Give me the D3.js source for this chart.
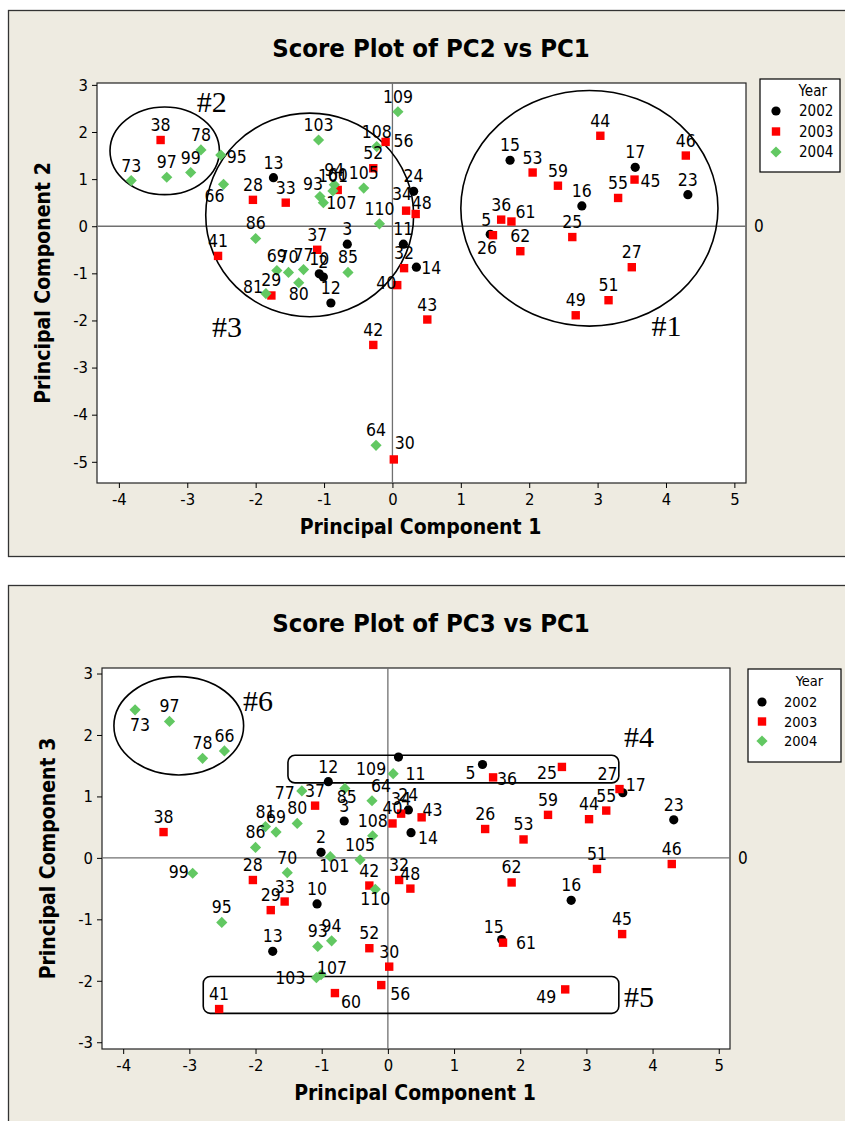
<!DOCTYPE html>
<html lang="en">
<head>
<meta charset="UTF-8">
<title>Score Plots</title>
<script src="https://d3js.org/d3.v7.min.js"></script>
<style>
  body { margin: 0; background: #fff; }
  svg { display: block; }
  .cond { font-family: "DejaVu Sans Condensed", "DejaVu Sans", sans-serif; font-stretch: condensed; }
  .tick text { font-family: "DejaVu Sans Condensed", "DejaVu Sans", sans-serif; font-stretch: condensed; font-size: 16.5px; fill: #000; }
  .tick line { stroke: #000; }
</style>
</head>
<body>
<script>
// sample ids, year and principal component scores
const ids = [2,3,5,10,11,12,13,14,15,16,17,23,24,25,26,27,28,29,30,32,33,34,36,37,38,40,41,42,43,44,45,46,48,49,51,52,53,55,56,59,60,61,62,64,66,69,70,73,77,78,80,81,85,86,93,94,95,97,99,101,103,105,107,108,109,110];
const years = [2002,2002,2002,2002,2002,2002,2002,2002,2002,2002,2002,2002,2002,
  2003,2003,2003,2003,2003,2003,2003,2003,2003,2003,2003,2003,2003,2003,2003,2003,2003,2003,2003,2003,2003,2003,2003,2003,2003,2003,2003,2003,2003,2003,
  2004,2004,2004,2004,2004,2004,2004,2004,2004,2004,2004,2004,2004,2004,2004,2004,2004,2004,2004,2004,2004,2004,2004];
const pc1 = [-1.01,-0.66,1.43,-1.07,0.16,-0.90,-1.74,0.35,1.72,2.77,3.55,4.32,0.31,2.63,1.47,3.50,-2.04,-1.77,0.02,0.17,-1.56,0.20,1.59,-1.10,-3.39,0.07,-2.55,-0.28,0.51,3.04,3.54,4.29,0.34,2.68,3.16,-0.28,2.05,3.30,-0.10,2.42,-0.80,1.74,1.87,-0.24,-2.47,-1.69,-1.52,-3.82,-1.30,-2.80,-1.37,-1.85,-0.65,-2.00,-1.06,-0.85,-2.51,-3.30,-2.95,-0.87,-1.08,-0.42,-1.01,-0.23,0.08,-0.19];
const pc2 = [-1.08,-0.38,-0.17,-1.01,-0.38,-1.63,1.03,-0.87,1.40,0.43,1.25,0.67,0.74,-0.23,-0.19,-0.87,0.56,-1.47,-4.95,-0.89,0.50,0.33,0.14,-0.50,1.83,-1.25,-0.63,-2.52,-1.98,1.92,0.99,1.50,0.26,-1.89,-1.57,1.23,1.14,0.60,1.79,0.86,0.77,0.10,-0.53,-4.65,0.89,-0.94,-0.98,0.97,-0.92,1.62,-1.20,-1.43,-0.98,-0.26,0.63,0.88,1.51,1.04,1.14,0.75,1.83,0.81,0.50,1.69,2.43,0.05];
const pc3 = [0.09,0.60,1.52,-0.75,1.64,1.24,-1.52,0.41,-1.33,-0.69,1.06,0.62,0.78,1.48,0.47,1.12,-0.36,-0.85,-1.77,-0.36,-0.71,0.72,1.31,0.85,0.42,0.56,-2.46,-0.45,0.66,0.63,-1.24,-0.10,-0.50,-2.14,-0.18,-1.47,0.30,0.77,-2.07,0.70,-2.20,-1.38,-0.40,0.93,1.74,0.42,-0.24,2.41,1.09,1.62,0.56,0.51,1.13,0.17,-1.44,-1.35,-1.05,2.22,-0.25,0.02,-1.95,-0.03,-1.90,0.36,1.37,-0.51];

const legendYears = [2002, 2003, 2004];
const xTicks = [-4,-3,-2,-1,0,1,2,3,4,5];
const yTicks2 = [3,2,1,0,-1,-2,-3,-4,-5];
const yTicks3 = [3,2,1,0,-1,-2,-3];

// group outlines drawn on the plots (data units)
const ellipses2 = [{cx:-3.33, cy:1.60, rx:0.80, ry:0.93}, {cx:-1.21, cy:0.24, rx:1.52, ry:2.16}, {cx:2.88, cy:0.38, rx:1.88, ry:2.50}];
const marks2 = [{t:"#2", x:-2.86, y:2.43}, {t:"#3", x:-2.64, y:-2.36}, {t:"#1", x:3.79, y:-2.34}];
const ellipses3 = [{cx:-3.16, cy:2.15, rx:0.98, ry:0.80}];
const boxes3 = [{x0:-1.51, x1:3.49, y0:1.67, y1:1.22}, {x0:-2.79, x1:3.49, y0:-1.93, y1:-2.53}];
const marks3 = [{t:"#6", x:-2.19, y:2.39}, {t:"#4", x:3.57, y:1.81}, {t:"#5", x:3.57, y:-2.42}];

// label placement exceptions: [dx, dy, anchor]
const place2 = {95:[6,8,"start"],66:[1,18,"end"],107:[3,6,"start"],81:[-3,-1,"end"],80:[0,17,"middle"],
  40:[-1,4,"end"],14:[5,7,"start"],56:[8,5,"start"],48:[-4,-5,"start"],30:[1,-10,"start"],45:[6,7,"start"],
  5:[1,-8,"end"],26:[-6,19,"middle"],61:[4,-4,"start"],93:[-7,-7,"middle"],34:[-4,-11,"middle"]};
const place3 = {73:[5,21,"middle"],11:[7,23,"start"],109:[-7,1,"end"],77:[-7,8,"end"],85:[2,15,"middle"],
  64:[-1,-9,"start"],43:[1,-1,"start"],14:[7,11,"start"],101:[4,15,"middle"],99:[-4,5,"end"],110:[0,16,"middle"],
  56:[9,15,"start"],60:[6,15,"start"],103:[-11,6,"end"],107:[-4,-1,"start"],5:[-7,15,"end"],36:[4,8,"start"],
  25:[-5,12,"end"],27:[-2,-9,"end"],17:[3,-2,"start"],15:[-8,-7,"middle"],61:[13,6,"start"],49:[-9,14,"end"]};

const colors = {2002: "#000000", 2003: "#ff0000", 2004: "#62c862"};

const svg = d3.select("body").append("svg")
  .attr("width", 845).attr("height", 1121);

const points = ids.map((id, i) => ({id, year: years[i], pc1: pc1[i], pc2: pc2[i], pc3: pc3[i]}));

function marker(g, year, s) {
  if (year === 2002) {
    g.append("circle").attr("r", 4.6 * s).attr("fill", colors[year]);
  } else if (year === 2003) {
    g.append("rect").attr("x", -4.2 * s).attr("y", -4.2 * s)
      .attr("width", 8.4 * s).attr("height", 8.4 * s).attr("fill", colors[year]);
  } else {
    const r = 5.6 * s;
    g.append("path").attr("d", `M0,${-r}L${r},0L0,${r}L${-r},0Z`).attr("fill", colors[year]);
  }
}

function drawPlot(c) {
  const g = svg.append("g");
  // panel
  g.append("rect").attr("x", 8.5).attr("y", c.panelTop).attr("width", 845).attr("height", c.panelH)
    .attr("fill", "#eeebe1").attr("stroke", "#333").attr("stroke-width", 1.3);

  const x = d3.scaleLinear().domain([-4.32, 5.17]).range([c.left, c.right]);
  const y = d3.scaleLinear().domain(c.yDomain).range([c.bottom, c.top]);

  g.append("rect").attr("x", c.left).attr("y", c.top)
    .attr("width", c.right - c.left).attr("height", c.bottom - c.top)
    .attr("fill", "#fff").attr("stroke", "#222").attr("stroke-width", 1.2);

  // reference lines
  g.append("line").attr("x1", x(0)).attr("x2", x(0)).attr("y1", c.top).attr("y2", c.bottom)
    .attr("stroke", "#707070").attr("stroke-width", 1.3);
  g.append("line").attr("x1", c.left).attr("x2", c.right).attr("y1", y(0)).attr("y2", y(0))
    .attr("stroke", "#707070").attr("stroke-width", 1.3);
  g.append("text").attr("class", "cond").attr("x", c.right + 8).attr("y", y(0) + 6)
    .attr("font-size", 17).text("0");

  // axes
  const ax = g.append("g").attr("transform", `translate(0,${c.bottom})`)
    .call(d3.axisBottom(x).tickValues(xTicks).tickSize(5).tickPadding(5).tickFormat(d3.format("d")));
  ax.select(".domain").remove();
  const ay = g.append("g").attr("transform", `translate(${c.left},0)`)
    .call(d3.axisLeft(y).tickValues(c.yTicks).tickSize(5).tickPadding(4).tickFormat(d3.format("d")));
  ay.select(".domain").remove();
  g.selectAll(".tick text").text(d => String(d));

  // titles
  g.append("text").attr("class", "cond").attr("x", 431).attr("y", c.panelTop + 46)
    .attr("text-anchor", "middle").attr("font-size", 25.5).attr("font-weight", "bold").text(c.title);
  g.append("text").attr("class", "cond").attr("x", (c.left + c.right) / 2 - 1).attr("y", c.bottom + 51)
    .attr("text-anchor", "middle").attr("font-size", 21).attr("font-weight", "bold").text("Principal Component 1");
  g.append("text").attr("class", "cond")
    .attr("transform", `translate(${c.left - 47},${(c.top + c.bottom) / 2}) rotate(-90)`)
    .attr("text-anchor", "middle").attr("font-size", 21).attr("font-weight", "bold").text(c.yLabel);

  // group outlines
  (c.ellipses || []).forEach(e => {
    g.append("ellipse").attr("cx", x(e.cx)).attr("cy", y(e.cy))
      .attr("rx", x(e.rx) - x(0)).attr("ry", y(0) - y(e.ry))
      .attr("fill", "none").attr("stroke", "#000").attr("stroke-width", 1.6);
  });
  (c.boxes || []).forEach(b => {
    g.append("rect").attr("x", x(b.x0)).attr("y", y(b.y0))
      .attr("width", x(b.x1) - x(b.x0)).attr("height", y(b.y1) - y(b.y0))
      .attr("rx", 7).attr("fill", "none").attr("stroke", "#000").attr("stroke-width", 1.6);
  });
  c.marks.forEach(m => {
    g.append("text").attr("x", x(m.x)).attr("y", y(m.y))
      .attr("font-family", "Liberation Serif, serif").attr("font-size", 30).text(m.t);
  });

  // points
  points.forEach(p => {
    const pg = g.append("g").attr("transform", `translate(${x(p.pc1)},${y(p[c.key])})`);
    marker(pg, p.year, 1);
  });
  points.forEach(p => {
    const pl = c.place[p.id] || [0, -9, "middle"];
    g.append("text").attr("class", "cond")
      .attr("x", x(p.pc1) + pl[0]).attr("y", y(p[c.key]) + pl[1])
      .attr("text-anchor", pl[2]).attr("font-size", 17.5).text(p.id);
  });

  // legend
  const L = c.legend;
  const lg = g.append("g");
  lg.append("rect").attr("x", L.x).attr("y", L.y).attr("width", L.w).attr("height", L.h)
    .attr("fill", "#fff").attr("stroke", "#000").attr("stroke-width", 1.2);
  lg.append("text").attr("class", "cond").attr("x", L.x + L.w * 0.66).attr("y", L.y + 17)
    .attr("text-anchor", "middle").attr("font-size", L.fs).text("Year");
  legendYears.forEach((yr, i) => {
    const cy = L.y + L.row0 + i * L.step;
    marker(lg.append("g").attr("transform", `translate(${L.x + L.mx},${cy})`), yr, 1);
    lg.append("text").attr("class", "cond").attr("x", L.x + L.tx).attr("y", cy + 5)
      .attr("font-size", L.fs).text(yr);
  });
}

drawPlot({
  panelTop: 10.5, panelH: 546, left: 97, right: 746, top: 83, bottom: 483,
  yDomain: [-5.45, 3.04], yTicks: yTicks2, key: "pc2",
  title: "Score Plot of PC2 vs PC1", yLabel: "Principal Component 2",
  ellipses: ellipses2, marks: marks2, place: place2,
  legend: {x: 760, y: 79, w: 80, h: 93, fs: 15, row0: 32, step: 20.5, mx: 16, tx: 39}
});

drawPlot({
  panelTop: 585.5, panelH: 545, left: 102, right: 730, top: 668, bottom: 1049,
  yDomain: [-3.11, 3.09], yTicks: yTicks3, key: "pc3",
  title: "Score Plot of PC3 vs PC1", yLabel: "Principal Component 3",
  ellipses: ellipses3, boxes: boxes3, marks: marks3, place: place3,
  legend: {x: 748, y: 669, w: 93, h: 93, fs: 14.5, row0: 33, step: 19.5, mx: 14, tx: 36}
});
</script>
</body>
</html>
